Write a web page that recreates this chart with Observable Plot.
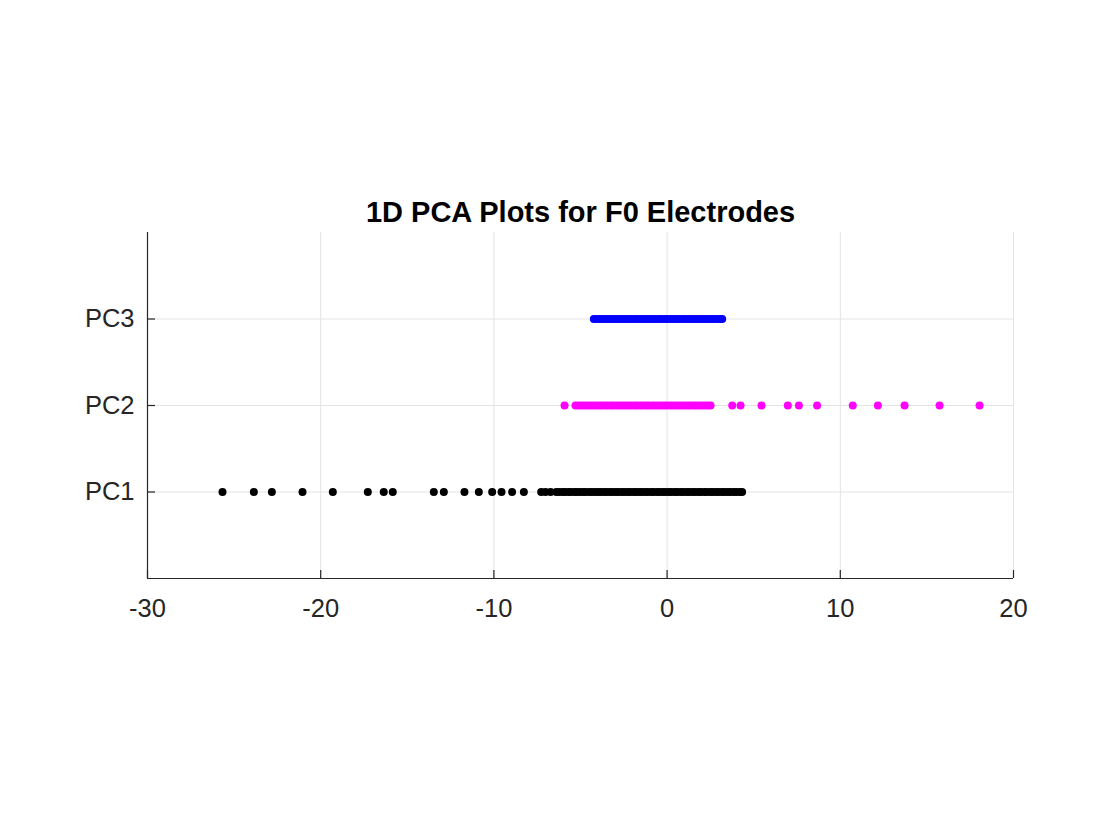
<!DOCTYPE html>
<html>
<head>
<meta charset="utf-8">
<script src="https://cdn.jsdelivr.net/npm/d3@7"></script>
<script src="https://cdn.jsdelivr.net/npm/@observablehq/plot@0.6"></script>
<style>
  html, body { margin: 0; padding: 0; background: #fff; }
  #chart svg { display: block; }
</style>
</head>
<body>
<div id="chart"></div>
<script>
const title = "1D PCA Plots for F0 Electrodes";
const categories = ["PC1", "PC2", "PC3"];
const colors = ["#000000", "#ff00ff", "#0000ff"];
const xTicks = [-30, -20, -10, 0, 10, 20];

const pc1 = [-25.67, -23.86, -22.82, -21.05, -19.30, -17.28, -16.36, -15.84, -13.47, -12.89,
  -11.70, -10.87, -10.10, -9.56, -8.95, -8.27, -7.27, -7.02, -6.73,
  -6.40, -6.23, -6.04, -5.89, -5.70, -5.56, -5.36, -5.21, -5.03, -4.85, -4.70, -4.50,
  -4.34, -4.16, -3.99, -3.83, -3.65, -3.49, -3.30, -3.15, -2.96, -2.81, -2.62, -2.47,
  -2.28, -2.13, -1.94, -1.79, -1.60, -1.45, -1.26, -1.11, -0.92, -0.77, -0.58, -0.43,
  -0.24, -0.09, 0.10, 0.25, 0.44, 0.59, 0.78, 0.93, 1.12, 1.27, 1.46, 1.61, 1.80, 1.95,
  2.14, 2.29, 2.48, 2.63, 2.82, 2.97, 3.16, 3.31, 3.50, 3.65, 3.84, 3.99, 4.18, 4.33];

const pc2 = [-5.92,
  -5.29, -5.12, -4.95, -4.79, -4.61, -4.45, -4.27, -4.11, -3.93, -3.77, -3.59, -3.43,
  -3.25, -3.09, -2.91, -2.75, -2.57, -2.41, -2.23, -2.07, -1.89, -1.73, -1.55, -1.39,
  -1.21, -1.05, -0.87, -0.71, -0.53, -0.37, -0.19, -0.03, 0.15, 0.31, 0.49, 0.65, 0.83,
  0.99, 1.17, 1.33, 1.51, 1.67, 1.85, 2.01, 2.19, 2.35, 2.51,
  3.76, 4.24, 5.45, 6.97, 7.61, 8.66, 10.72, 12.17, 13.71, 15.73, 18.04];

const pc3 = [-4.23, -4.06, -3.89, -3.73, -3.55, -3.39, -3.21, -3.05, -2.87, -2.71, -2.53,
  -2.37, -2.19, -2.03, -1.85, -1.69, -1.51, -1.35, -1.17, -1.01, -0.83, -0.67, -0.49,
  -0.33, -0.15, 0.01, 0.19, 0.35, 0.53, 0.69, 0.87, 1.03, 1.21, 1.37, 1.55, 1.71, 1.89,
  2.05, 2.23, 2.39, 2.57, 2.73, 2.91, 3.05, 3.18];

const series = [pc1, pc2, pc3];
const points = series.flatMap((vals, i) => vals.map(v => ({pc: categories[i], level: i + 1, value: v})));

const font = "'Liberation Sans', Arial, Helvetica, sans-serif";
const axisColor = "#262626";
const gridColor = "#e3e3e3";

const chart = Plot.plot({
  width: 1120,
  height: 840,
  marginLeft: 147,
  marginRight: 107,
  marginTop: 232,
  marginBottom: 262,
  style: {fontFamily: font, background: "#fff", overflow: "visible"},
  x: {domain: [-30, 20], type: "linear"},
  y: {domain: [0, 4], type: "linear"},
  color: {domain: categories, range: colors},
  marks: [
    Plot.gridX(xTicks, {stroke: gridColor, strokeOpacity: 1, strokeWidth: 1}),
    Plot.gridY([1, 2, 3], {stroke: gridColor, strokeOpacity: 1, strokeWidth: 1}),
    Plot.ruleY([0], {stroke: axisColor, strokeWidth: 1.2}),
    Plot.ruleX([-30], {stroke: axisColor, strokeWidth: 1.2}),
    Plot.axisX(xTicks, {anchor: "bottom", tickSize: -8, fill: "none", stroke: axisColor, strokeWidth: 1.2, label: null}),
    Plot.axisX(xTicks, {anchor: "bottom", tickSize: 0, tickPadding: 20, fontSize: 25.5, fill: axisColor, label: null,
      tickFormat: d => String(d).replace("\u2212", "-")}),
    Plot.axisY([1, 2, 3], {anchor: "left", tickSize: -8, fill: "none", stroke: axisColor, strokeWidth: 1.2, label: null}),
    Plot.axisY([1, 2, 3], {anchor: "left", tickSize: 0, tickPadding: 13, fontSize: 25.5, fill: axisColor, label: null,
      tickFormat: d => categories[d - 1]}),
    Plot.dot(points, {x: "value", y: "level", fill: "pc", stroke: "none", r: 4}),
    Plot.text([title], {frameAnchor: "top", dy: -20, lineAnchor: "middle", fontSize: 29, fontWeight: "bold", fill: "#000"})
  ]
});
document.getElementById("chart").append(chart);
</script>
</body>
</html>
